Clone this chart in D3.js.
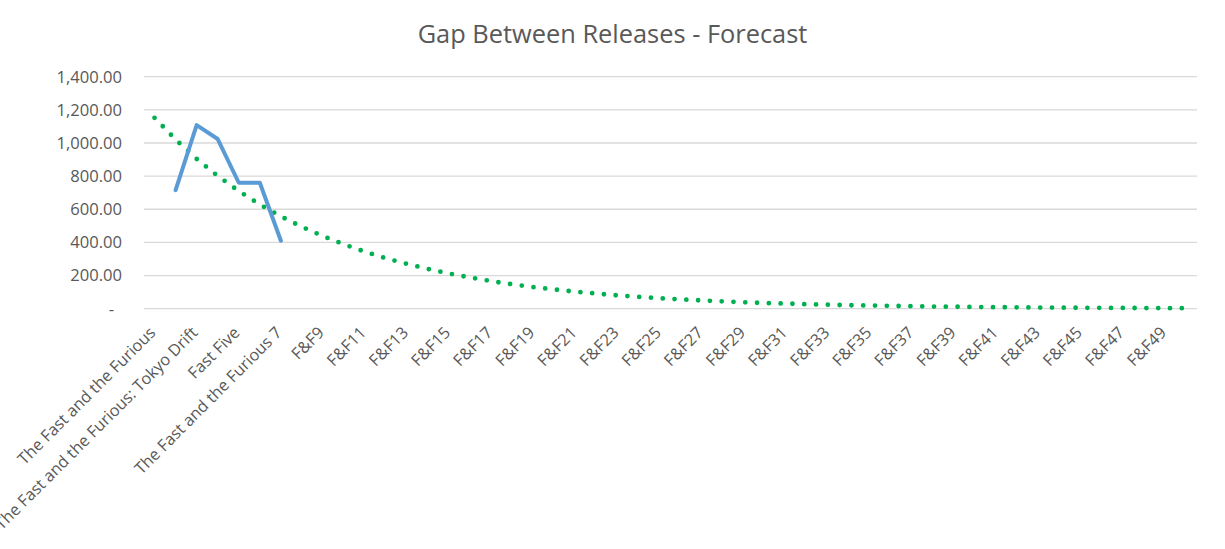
<!DOCTYPE html>
<html>
<head>
<meta charset="utf-8">
<script src="https://cdn.jsdelivr.net/npm/d3@7"></script>
<style>
  body { margin: 0; background: #fff; }
  svg { display: block; font-family: "Open Sans", sans-serif; }
</style>
</head>
<body>
<svg id="chart" width="1225" height="549"></svg>
<script>
// ─── Data ──────────────────────────────────────────────────────────────────
const movieTitles = [
  "The Fast and the Furious",
  "2 Fast 2 Furious",
  "The Fast and the Furious: Tokyo Drift",
  "Fast & Furious",
  "Fast Five",
  "Fast & Furious 6",
  "The Fast and the Furious 7"
];
const forecastNumbers = [
  8, 9, 10, 11, 12, 13, 14, 15, 16, 17, 18, 19, 20, 21, 22, 23, 24, 25, 26,
  27, 28, 29, 30, 31, 32, 33, 34, 35, 36, 37, 38, 39, 40, 41, 42, 43, 44, 45,
  46, 47, 48, 49, 50
];
const categories = movieTitles.concat(forecastNumbers.map(n => "F&F" + n));

// days between releases (first film has no gap)
const gapDays = [null, 715, 1108, 1024, 760, 760, 410];

// exponential trend line
const trendValues = [
  1152, 1021, 904, 801, 710, 629, 557, 494, 438, 388,
  343, 304, 270, 239, 212, 188, 166, 147, 130, 116,
  102, 91, 80, 71, 63, 56, 50, 44, 39, 34,
  31, 27, 24, 21, 19, 17, 15, 13, 12, 10,
  9.1, 8.1, 7.1, 6.3, 5.6, 5.0, 4.4, 3.9, 3.5, 3.1
];

const yTicks = [0, 200, 400, 600, 800, 1000, 1200, 1400];

// ─── Layout ────────────────────────────────────────────────────────────────
const plot = { left: 144, right: 1197, top: 76.7, bottom: 308.7 };
const textColor = "#595959";

const svg = d3.select("#chart");

const x = d3.scaleBand()
  .domain(categories)
  .range([plot.left, plot.right])
  .padding(0);
const cx = d => x(d) + x.bandwidth() / 2;

const y = d3.scaleLinear()
  .domain([0, 1400])
  .range([plot.bottom, plot.top]);

// ─── Title ─────────────────────────────────────────────────────────────────
svg.append("text")
  .attr("x", 612.5)
  .attr("y", 43)
  .attr("text-anchor", "middle")
  .attr("font-size", "25.4px")
  .attr("fill", textColor)
  .text("Gap Between Releases - Forecast");

// ─── Gridlines ─────────────────────────────────────────────────────────────
svg.append("g")
  .selectAll("line")
  .data(yTicks)
  .join("line")
    .attr("x1", plot.left)
    .attr("x2", plot.right)
    .attr("y1", d => y(d))
    .attr("y2", d => y(d))
    .attr("stroke", "#d9d9d9")
    .attr("stroke-width", 1.3);

// ─── Y axis ────────────────────────────────────────────────────────────────
const yAxis = svg.append("g")
  .attr("transform", `translate(${plot.left - 22},0)`)
  .call(d3.axisLeft(y)
    .tickValues(yTicks)
    .tickSize(0)
    .tickPadding(0)
    .tickFormat(d => d === 0 ? "-" : d3.format(",.2f")(d)));
yAxis.select(".domain").remove();
yAxis.selectAll("text")
  .attr("font-family", "Open Sans, sans-serif")
  .attr("font-size", "16.6px")
  .attr("fill", textColor)
  .attr("dx", d => d === 0 ? "-8px" : 0);

// ─── X axis (every other label, rotated) ───────────────────────────────────
svg.append("g")
  .selectAll("text")
  .data(categories.filter((d, i) => i % 2 === 0))
  .join("text")
    .attr("transform", d => `translate(${cx(d) - 2},${plot.bottom + 21}) rotate(-45)`)
    .attr("text-anchor", "end")
    .attr("dy", "0.35em")
    .attr("font-size", "16.3px")
    .attr("fill", textColor)
    .text(d => d);

// ─── Trend (dotted) ────────────────────────────────────────────────────────
const trendLine = d3.line()
  .x((d, i) => cx(categories[i]))
  .y(d => y(d));

svg.append("path")
  .datum(trendValues)
  .attr("d", trendLine)
  .attr("fill", "none")
  .attr("stroke", "#00b050")
  .attr("stroke-width", 4.8)
  .attr("stroke-linecap", "round")
  .attr("stroke-dasharray", "0 11.8");

// ─── Actual gaps ───────────────────────────────────────────────────────────
const gapLine = d3.line()
  .defined(d => d != null)
  .x((d, i) => cx(categories[i]))
  .y(d => y(d));

svg.append("path")
  .datum(gapDays)
  .attr("d", gapLine)
  .attr("fill", "none")
  .attr("stroke", "#5b9bd5")
  .attr("stroke-width", 4)
  .attr("stroke-linecap", "round")
  .attr("stroke-linejoin", "round");
</script>
</body>
</html>
